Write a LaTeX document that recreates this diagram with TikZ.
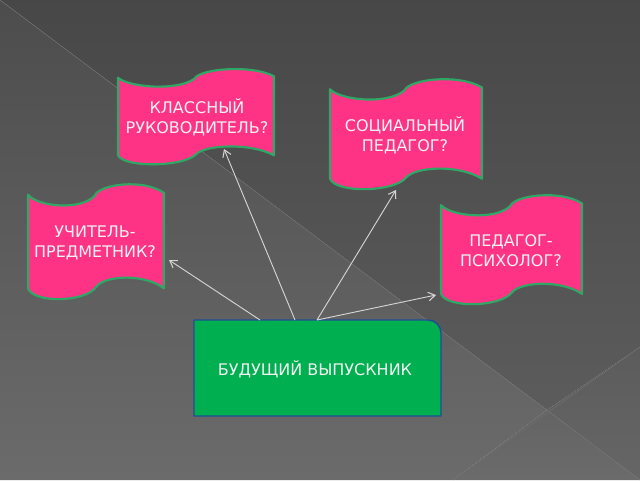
\documentclass[tikz,border=0pt]{standalone}
\usepackage{fontspec}
\setmainfont{DejaVu Sans}
\usetikzlibrary{arrows.meta,shadings}
\definecolor{flagpink}{HTML}{FF3385}
\definecolor{flagedge}{HTML}{2FA866}
\definecolor{boxgreen}{HTML}{00B050}
\definecolor{boxedge}{HTML}{1F4E96}
\definecolor{arrowgray}{HTML}{D4D4D4}
\definecolor{txt}{HTML}{F2F2F2}
\definecolor{seam}{HTML}{707070}
\tikzset{
  flagshape/.style={fill=flagpink,draw=flagedge,line width=1.6pt,line join=round},
  label/.style={text=txt,font=\fontsize{12}{15}\selectfont,align=center,inner sep=0pt},
  link/.style={draw=arrowgray,line width=0.7pt,-{Straight Barb[length=5pt,width=6.5pt,line width=0.8pt]}},
  seamline/.style={draw=seam,line width=0.35pt},
}
\newcommand{\flagat}[4]{%
  \begin{scope}[shift={(#1,#2)},x=#3*0.75pt,y=-#4*0.75pt]
    \path[flagshape]
      (0,.10) .. controls (.07,.20) and (.38,.24) .. (.49,.11)
      .. controls (.52,.01) and (.85,-.04) .. (1,.085)
      -- (1,.90)
      .. controls (.85,.77) and (.56,.79) .. (.50,.89)
      .. controls (.42,1.02) and (.04,1.03) .. (0,.90)
      -- cycle;
  \end{scope}}
\begin{document}
\begin{tikzpicture}[x=0.75pt,y=-0.75pt]
  \useasboundingbox (0,0) rectangle (640,480);
  % background facets
  \shade[top color=black!72!white,bottom color=black!64!white] (0,0) -- (640,0) -- (640,347) -- (547,410) -- cycle;
  \shade[top color=black!70!white,bottom color=black!58!white] (0,0) -- (547,410) -- (453,480) -- (0,480) -- cycle;
  \shade[top color=black!64!white,bottom color=black!60!white] (640,347) -- (640,480) -- (547,410) -- cycle;
  \shade[top color=black!61!white,bottom color=black!58!white] (547,410) -- (640,480) -- (453,480) -- cycle;
  \draw[seamline] (0,0) -- (640,480);
  \draw[seamline] (640,347) -- (453,480);

  % flags
  \flagat{118}{68}{156}{97}
  \flagat{330}{78}{152}{112}
  \flagat{28}{183}{136}{117}
  \flagat{441}{194}{141}{111}
  \node[label] (klass) at (197,117) {КЛАССНЫЙ\\РУКОВОДИТЕЛЬ?};
  \node[label] (soc)   at (405,135) {СОЦИАЛЬНЫЙ\\ПЕДАГОГ?};
  \node[label] (uch)   at (95,243)  {УЧИТЕЛЬ-\\ПРЕДМЕТНИК?};
  \node[label] (psy)   at (511,251) {ПЕДАГОГ-\\ПСИХОЛОГ?};

  % main box
  \path[fill=boxgreen,draw=boxedge,line width=1.1pt,line join=round]
    (194,320) -- (428,320) arc[start angle=90,end angle=0,x radius=13,y radius=-13] -- (441,416) -- (194,416) -- cycle;
  \node[label] (grad) at (315,369) {БУДУЩИЙ ВЫПУСКНИК};

  % connector ends
  \coordinate (s1) at (260,320);
  \coordinate (s2) at (295,320);
  \coordinate (s3) at (317,320);
  \coordinate (t1) at (169,260);
  \coordinate (t2) at (224,149);
  \coordinate (t3) at (396,190);
  \coordinate (t4) at (436,295);
  \draw[link] (s1) -- (t1);
  \draw[link] (s2) -- (t2);
  \draw[link] (s3) -- (t3);
  \draw[link] (s3) -- (t4);
\end{tikzpicture}
\end{document}
